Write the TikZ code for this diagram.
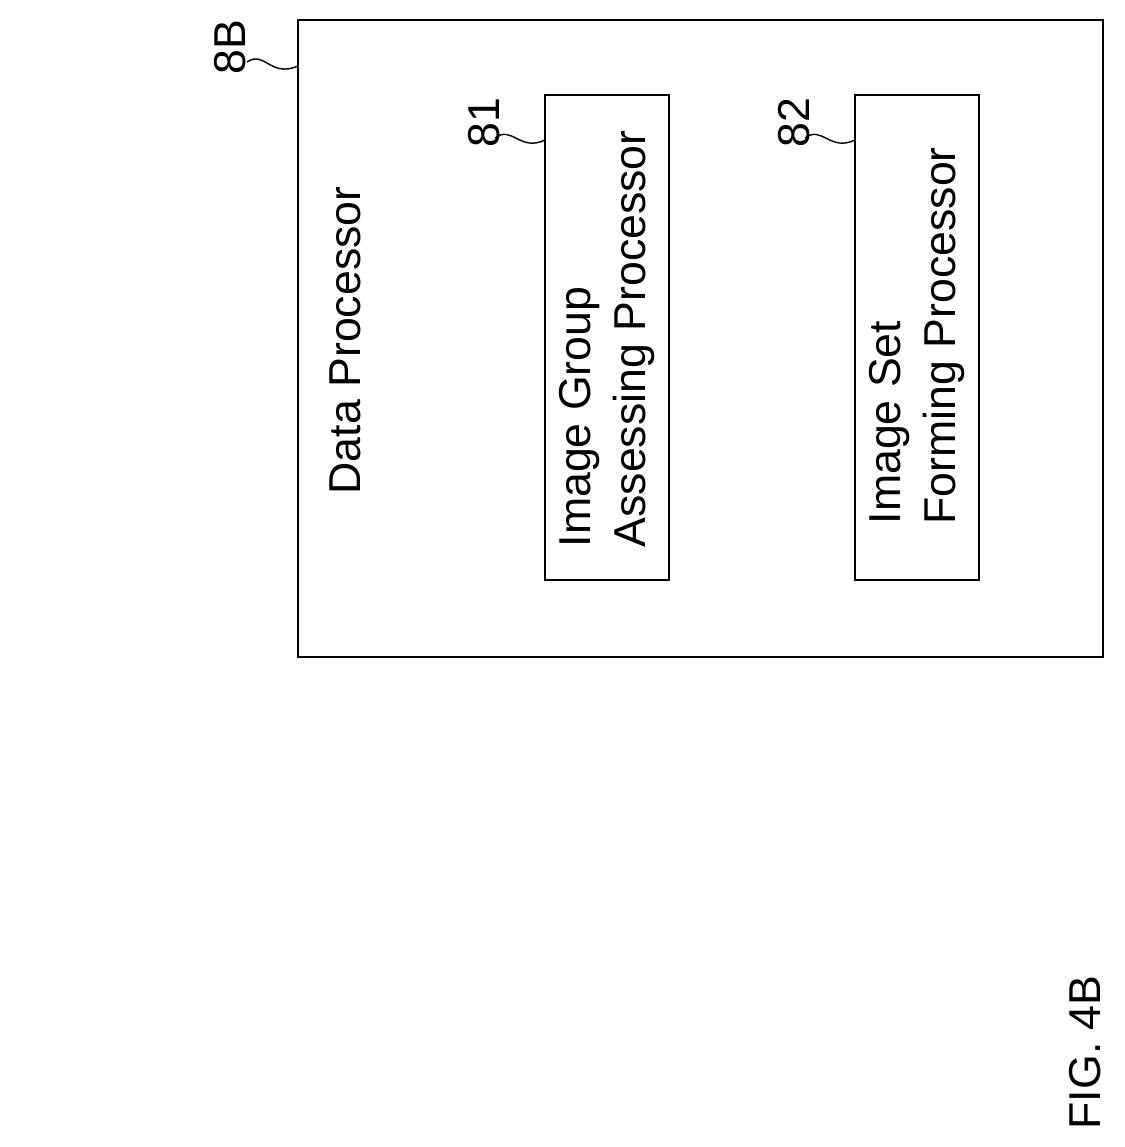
\documentclass[tikz,border=0pt]{standalone}
\usepackage{fontspec}
\setmainfont{Liberation Sans}
\begin{document}
\begin{tikzpicture}[x=0.01cm,y=-0.01cm,
    box/.style={draw,semithick},
    lbl/.style={rotate=90,font=\fontsize{12.7}{15.6}\selectfont,align=left,inner sep=0pt},
    lead/.style={thin}]
        % page
        \useasboundingbox (0,0) rectangle (1125,1147);
        
        % outer box
        \draw[box] (298,20) rectangle (1103,657);
        \node[lbl,anchor=west] (dp) at (345,495) {Data Processor};
        \node[lbl,anchor=west] (n8B) at (230,75) {8B};
        \draw[lead] (247,62) .. controls (265,50) and (270,78) .. (298,66) coordinate (c8B);
        
        % sub boxes
        \draw[box] (545,95) rectangle (669,580);
        \node[lbl,anchor=west] (igap) at (607,548) {Image Group\\Assessing Processor};
        \node[lbl,anchor=west] (n81) at (484,148) {81};
        \draw[lead] (495,138) .. controls (512,125) and (520,152) .. (545,140);
        
        \draw[box] (855,95) rectangle (979,580);
        \node[lbl,anchor=west] (isfp) at (917,525) {Image Set\\Forming Processor};
        \node[lbl,anchor=west] (n82) at (794,148) {82};
        \draw[lead] (805,138) .. controls (822,125) and (830,152) .. (855,140);
        
        % caption
        \node[lbl,anchor=west] (fig) at (1085,1130) {FIG. 4B};
\end{tikzpicture}
\end{document}
